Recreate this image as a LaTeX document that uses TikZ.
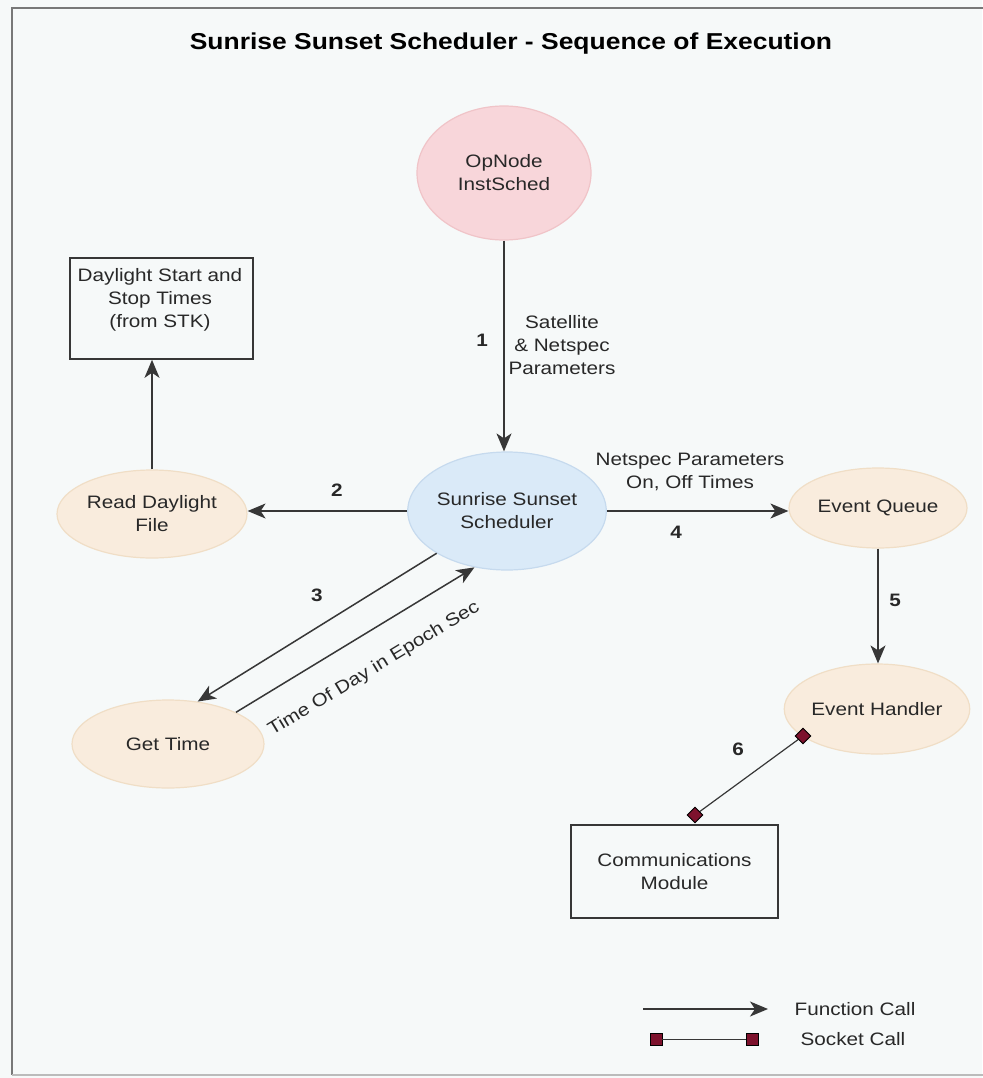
\documentclass[tikz,border=0pt]{standalone}
\usepackage{fontspec}
\setmainfont{Liberation Sans}[FakeStretch=1.15]
\usetikzlibrary{arrows.meta,shapes.geometric}
\definecolor{bgc}{RGB}{246,249,249}
\definecolor{framec}{RGB}{120,120,120}
\definecolor{txt}{RGB}{40,40,40}
\definecolor{linec}{RGB}{55,55,55}
\definecolor{pinkf}{RGB}{248,214,218}
\definecolor{pinkd}{RGB}{240,196,200}
\definecolor{bluef}{RGB}{218,234,248}
\definecolor{blued}{RGB}{198,218,238}
\definecolor{beigef}{RGB}{249,236,221}
\definecolor{beiged}{RGB}{240,222,198}
\definecolor{sockf}{RGB}{125,18,45}
\tikzset{
  every node/.style={text=txt, font=\fontsize{18}{23}\selectfont},
  ell/.style={ellipse, inner sep=0pt, line width=1.2pt, align=center},
  pinkell/.style={ell, fill=pinkf, draw=pinkd},
  blueell/.style={ell, fill=bluef, draw=blued},
  beigeell/.style={ell, fill=beigef, draw=beiged},
  boxnode/.style={rectangle, draw=linec, line width=1.6pt, fill=bgc, inner sep=0pt},
  lbl/.style={align=center, inner sep=0pt},
  num/.style={font=\fontsize{18}{22}\selectfont\bfseries, inner sep=0pt},
  fcall/.style={draw=linec, line width=1.5pt, -{Stealth[length=18pt, width=15pt, inset=5pt]}},
  sline/.style={draw=linec, line width=1.2pt},
  sockdia/.style={rectangle, rotate=45, minimum size=11pt, inner sep=0pt, fill=sockf, draw=black, line width=0.8pt},
  socksq/.style={rectangle, minimum size=12pt, inner sep=0pt, fill=sockf, draw=black, line width=0.8pt},
}
\begin{document}
\begin{tikzpicture}[x=1pt, y=-1pt]
\useasboundingbox (0,0) rectangle (982,1078);
\fill[bgc] (0,0) rectangle (982,1078);
% frame
\draw[framec, line width=2.5pt] (990,8) -- (12,8) -- (12,1075);
\draw[framec!50, line width=1.5pt] (12,1075) -- (990,1075);

% title
\node[font=\fontsize{23}{28}\selectfont\bfseries, text=black] (title) at (511,44) {Sunrise Sunset Scheduler - Sequence of Execution};

% nodes
\node[pinkell, minimum width=174pt, minimum height=134pt] (op) at (504,173) {OpNode\\InstSched};
\node[blueell, minimum width=192pt, minimum height=118pt] (sched) at (507,511) {Sunrise Sunset\\Scheduler};
\node[beigeell, minimum width=190pt, minimum height=88pt] (read) at (152,514) {Read Daylight\\File};
\node[beigeell, minimum width=192pt, minimum height=88pt] (gt) at (168,744) {Get Time};
\node[beigeell, minimum width=178pt, minimum height=80pt] (eq) at (878,508) {Event Queue};
\node[beigeell, minimum width=176pt, minimum height=90pt] (eh) at (877,709) {Event Handler};
\node[boxnode, minimum width=183pt, minimum height=101pt] (dbox) at (161.5,308.5) {};
\node[lbl] (dtext) at (160,299.5) {Daylight Start and\\Stop Times\\(from STK)};
\node[boxnode, minimum width=207pt, minimum height=93pt, align=center] (comm) at (674.5,871.5) {Communications\\Module};

% connectors
\draw[fcall] (op.south) -- (op.south |- sched.north);
\node[num] (n1) at (482,340) {1};
\node[lbl] (l1) at (562,345) {Satellite\\\& Netspec\\Parameters};

\draw[fcall] (sched.west) -- (sched.west -| read.east);
\node[num] (n2) at (337,490) {2};

\draw[fcall] (read.north) -- (read.north |- dbox.south);

\draw[fcall] (sched.211.7) -- (gt.55.7);
\draw[fcall] (gt.25.5) -- (sched.240);
\node[num] (n3) at (317,595) {3};
\node[lbl, rotate=31.2] (l3) at (374,669) {Time Of Day in Epoch Sec};

\draw[fcall] (sched.east) -- (sched.east -| eq.west);
\node[num] (n4) at (676,532) {4};
\node[lbl] (l4) at (690,471.5) {Netspec Parameters\\On, Off Times};

\draw[fcall] (eq.south) -- (eq.south |- eh.north);
\node[num] (n5) at (895,600) {5};

\coordinate (s6a) at (803,736);
\coordinate (s6b) at (695,815);
\draw[sline] (s6a) -- (s6b);
\node[sockdia] (d6a) at (s6a) {};
\node[sockdia] (d6b) at (s6b) {};
\node[num] (n6) at (738,749) {6};

% legend
\coordinate (lfa) at (643,1009);
\coordinate (lfb) at (768,1009);
\draw[fcall] (lfa) -- (lfb);
\node[lbl] (lf) at (855,1009) {Function Call};
\node[socksq] (lsa) at (656,1039) {};
\node[socksq] (lsb) at (752,1039) {};
\draw[sline, line width=1pt] (lsa) -- (lsb);
\node[lbl] (ls) at (853,1039) {Socket Call};
\end{tikzpicture}
\end{document}
